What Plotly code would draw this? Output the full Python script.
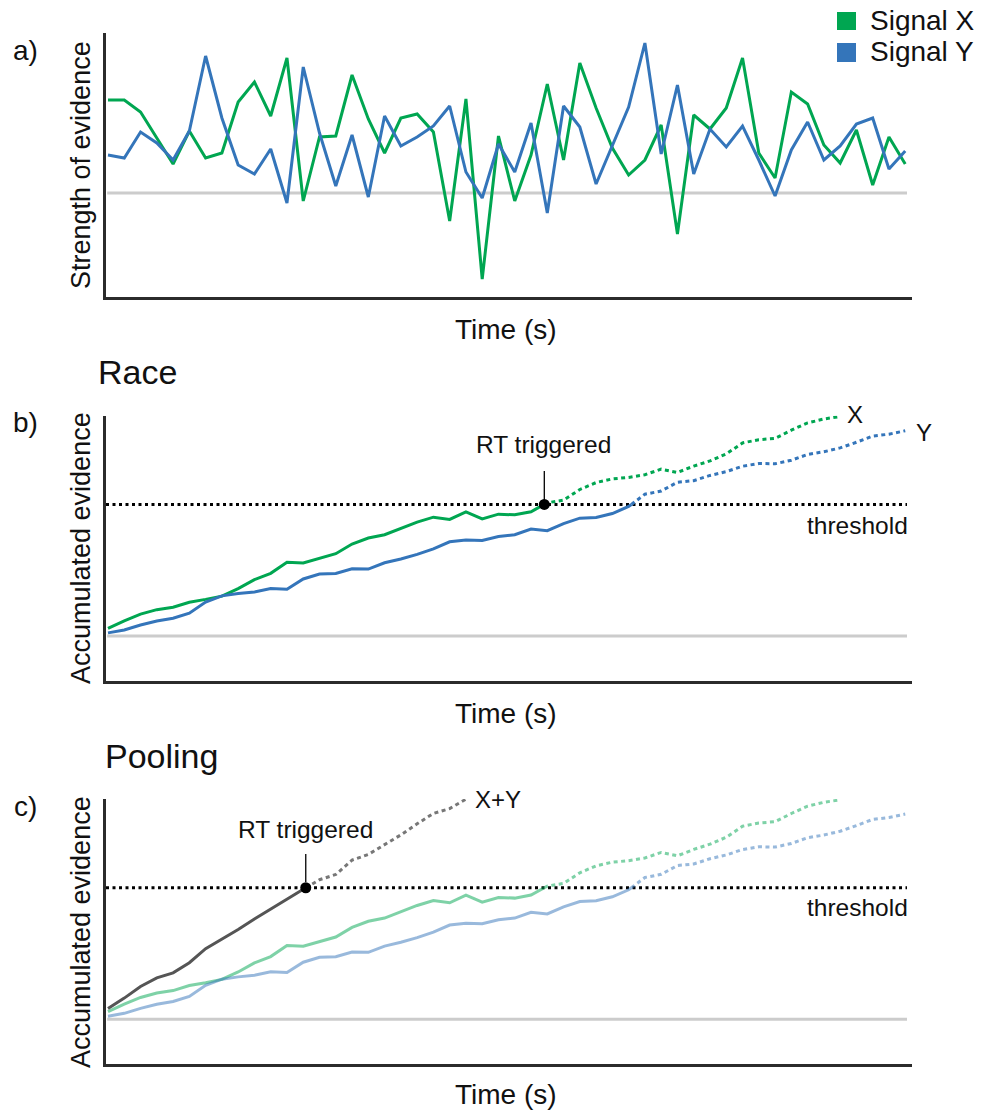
import numpy as np
import plotly.graph_objects as go

W, H = 984, 1111
FONT = "Liberation Sans, Arial, sans-serif"

# Momentary evidence strength of the two signals at each time step
signal_x = [9.3, 9.3, 8.1, 5.5, 2.9, 6.2, 3.5, 4.0, 9.1, 11.1,
            7.7, 13.5, -0.8, 5.6, 5.7, 11.8, 7.4, 4.0, 7.5, 7.9,
            6.1, -2.8, 9.4, -8.6, 5.7, -0.8, 3.8, 10.9, 3.3, 13.0,
            8.5, 4.5, 1.8, 3.3, 6.8, -4.1, 7.8, 6.4, 8.5, 13.5,
            4.0, 1.5, 10.1, 8.9, 4.8, 3.0, 6.3, 0.8, 5.6, 2.9]
signal_y = [3.8, 3.5, 6.1, 5.0, 3.3, 6.2, 13.7, 7.5, 2.8, 1.9,
            4.4, -1.0, 12.6, 6.0, 0.7, 5.8, -0.4, 7.7, 4.7, 5.6,
            6.7, 8.7, 2.1, -0.5, 4.9, 2.1, 7.0, -2.0, 8.7, 6.6,
            0.9, 4.8, 8.6, 15.0, 3.9, 10.8, 1.9, 6.4, 4.6, 6.7,
            3.3, -0.3, 4.3, 7.1, 3.3, 4.7, 6.9, 7.5, 2.4, 4.2]

threshold = 161          # decision bound for accumulated evidence
last_step_x = 45         # X accumulator drawn up to this step
last_step_xy = 22        # pooled accumulator drawn up to this step

GREEN = "#00a651"
BLUE = "#3475ba"
AXIS = "#2b2b2b"
ZERO = "#cccccc"
DOT = "4px,3.5px"

steps = np.arange(len(signal_x))
acc_x = np.cumsum(signal_x)
acc_y = np.cumsum(signal_y)
acc_xy = acc_x + acc_y


def split_at(t, v, thr):
    """Split a trajectory where it first reaches thr: solid before, dotted after."""
    t = list(t)
    v = list(v)
    k = next(i for i, val in enumerate(v) if val >= thr)
    tc = t[k - 1] + (thr - v[k - 1]) / (v[k] - v[k - 1])
    solid = (t[:k] + [tc], v[:k] + [thr])
    dotted = ([tc] + t[k:], [thr] + v[k:])
    return solid, dotted, tc


def px(x):
    return x / W


def py(y):
    return 1 - y / H


fig = go.Figure()

# ---- a) raw signals
fig.add_trace(go.Scatter(x=steps, y=signal_x, mode="lines", xaxis="x", yaxis="y",
                         line=dict(color=GREEN, width=3), showlegend=False))
fig.add_trace(go.Scatter(x=steps, y=signal_y, mode="lines", xaxis="x", yaxis="y",
                         line=dict(color=BLUE, width=3), showlegend=False))

# ---- b) race model
sx_solid, sx_dot, tx = split_at(steps[:last_step_x + 1], acc_x[:last_step_x + 1], threshold)
sy_solid, sy_dot, ty = split_at(steps, acc_y, threshold)
for (xs, ys), col, dash in [(sx_solid, GREEN, "solid"), (sx_dot, GREEN, DOT),
                            (sy_solid, BLUE, "solid"), (sy_dot, BLUE, DOT)]:
    fig.add_trace(go.Scatter(x=xs, y=ys, mode="lines", xaxis="x2", yaxis="y2",
                             line=dict(color=col, width=3, dash=dash), showlegend=False))
fig.add_trace(go.Scatter(x=[tx], y=[threshold], mode="markers", xaxis="x2", yaxis="y2",
                         marker=dict(color="black", size=11), showlegend=False))

# ---- c) pooling model
for (xs, ys), col, dash in [(sx_solid, GREEN, "solid"), (sx_dot, GREEN, DOT),
                            (sy_solid, BLUE, "solid"), (sy_dot, BLUE, DOT)]:
    fig.add_trace(go.Scatter(x=xs, y=ys, mode="lines", xaxis="x3", yaxis="y3", opacity=0.5,
                             line=dict(color=col, width=3, dash=dash), showlegend=False))
sxy_solid, sxy_dot, txy = split_at(steps[:last_step_xy + 1], acc_xy[:last_step_xy + 1], threshold)
fig.add_trace(go.Scatter(x=sxy_solid[0], y=sxy_solid[1], mode="lines", xaxis="x3", yaxis="y3",
                         line=dict(color="#555555", width=3), showlegend=False))
fig.add_trace(go.Scatter(x=sxy_dot[0], y=sxy_dot[1], mode="lines", xaxis="x3", yaxis="y3",
                         line=dict(color="#777777", width=3, dash=DOT), showlegend=False))
fig.add_trace(go.Scatter(x=[txy], y=[threshold], mode="markers", xaxis="x3", yaxis="y3",
                         marker=dict(color="black", size=11), showlegend=False))

# ---- axes
x_lo = (106 - 108) / 16.27
x_hi = (912 - 108) / 16.27
xdom = [px(106), px(912)]
ax_common = dict(showline=True, linewidth=3, linecolor=AXIS, showgrid=False,
                 zeroline=False, showticklabels=False, ticks="")
acc_range = [-54.5, 269.5]
fig.update_layout(
    xaxis=dict(domain=xdom, range=[x_lo, x_hi], anchor="y", **ax_common),
    yaxis=dict(domain=[py(297), py(33)], range=[-10.4, 16.0], anchor="x", **ax_common),
    xaxis2=dict(domain=xdom, range=[x_lo, x_hi], anchor="y2", **ax_common),
    yaxis2=dict(domain=[py(680.5), py(415.8)], range=acc_range, anchor="x2", **ax_common),
    xaxis3=dict(domain=xdom, range=[x_lo, x_hi], anchor="y3", **ax_common),
    yaxis3=dict(domain=[py(1063.8), py(799.1)], range=acc_range, anchor="x3", **ax_common),
)

# ---- reference lines
x_zero_end = (907 - 108) / 16.27
shapes = []
for xr, yr in [("x", "y"), ("x2", "y2"), ("x3", "y3")]:
    shapes.append(dict(type="line", xref=xr, yref=yr, x0=-0.05, x1=x_zero_end, y0=0, y1=0,
                       line=dict(color=ZERO, width=3), layer="below"))
for xr, yr in [("x2", "y2"), ("x3", "y3")]:
    shapes.append(dict(type="line", xref=xr, yref=yr, x0=x_lo, x1=x_zero_end,
                       y0=threshold, y1=threshold,
                       line=dict(color="black", width=3, dash="3px,3.5px"), layer="below"))
# leader lines for the RT markers
shapes.append(dict(type="line", xref="x2", yref="paper", x0=tx, x1=tx, y0=py(471), y1=py(500),
                   line=dict(color="black", width=1.3)))
shapes.append(dict(type="line", xref="x3", yref="paper", x0=txy, x1=txy, y0=py(854), y1=py(882),
                   line=dict(color="black", width=1.3)))
# legend swatches
shapes.append(dict(type="rect", xref="paper", yref="paper", x0=px(837), x1=px(856),
                   y0=py(30), y1=py(12), fillcolor=GREEN, line=dict(width=0)))
shapes.append(dict(type="rect", xref="paper", yref="paper", x0=px(837), x1=px(856),
                   y0=py(62), y1=py(43), fillcolor=BLUE, line=dict(width=0)))


def label(text, x, y, size, xanchor="center", angle=0):
    return dict(text=text, x=px(x), y=py(y), xref="paper", yref="paper",
                xanchor=xanchor, yanchor="middle", showarrow=False, textangle=angle,
                font=dict(family=FONT, size=size, color="#111111"))


annotations = [
    label("a)", 25, 50, 28),
    label("b)", 25, 423, 28),
    label("c)", 25, 806, 28),
    label("Race", 96, 372, 34, xanchor="left"),
    label("Pooling", 103, 756, 34, xanchor="left"),
    label("Strength of evidence", 81, 165, 27, angle=-90),
    label("Accumulated evidence", 81, 548, 27, angle=-90),
    label("Accumulated evidence", 81, 932, 27, angle=-90),
    label("Time (s)", 506, 329, 28),
    label("Time (s)", 506, 713, 28),
    label("Time (s)", 506, 1094, 28),
    label("Signal X", 868, 21, 28, xanchor="left"),
    label("Signal Y", 868, 52, 28, xanchor="left"),
    label("RT triggered", 543, 445, 24.5),
    label("RT triggered", 305, 829, 24.5),
    label("X", 855, 414, 24),
    label("Y", 924, 432, 24),
    label("threshold", 857, 525, 24.5),
    label("threshold", 857, 907, 24.5),
    label("X+Y", 498, 799, 24),
]

fig.update_layout(
    width=W, height=H, margin=dict(l=0, r=0, t=0, b=0),
    paper_bgcolor="white", plot_bgcolor="white",
    shapes=shapes, annotations=annotations, showlegend=False,
)

fig.write_html("out.html")
